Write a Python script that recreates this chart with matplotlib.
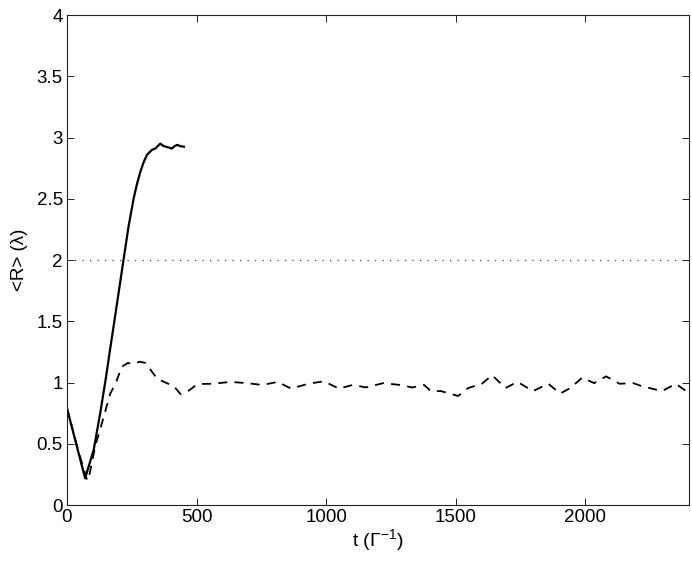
import matplotlib
matplotlib.use("Agg")
import matplotlib.pyplot as plt

plt.rcParams['font.family'] = ['Liberation Sans', 'DejaVu Sans']
plt.rcParams['mathtext.fontset'] = 'custom'
plt.rcParams['mathtext.rm'] = 'Liberation Sans'
plt.rcParams['mathtext.it'] = 'Liberation Sans:italic'
plt.rcParams['mathtext.default'] = 'regular'

# Solid curve
t_solid = [0, 70, 103, 129, 151, 167, 187, 218, 238, 257, 270, 283, 296, 309, 328, 341, 350, 360,
           373, 390, 405, 415, 425, 437, 451]
r_solid = [0.79, 0.218, 0.45, 0.76, 1.05, 1.28, 1.56, 2.00, 2.28, 2.50, 2.62, 2.72, 2.80, 2.86, 2.90, 2.91, 2.93, 2.95,
           2.93, 2.92, 2.91, 2.93, 2.94, 2.93, 2.925]

# Dashed curve
t_dash = [0, 40, 78, 85, 109, 135, 167, 187, 212, 235, 257, 280, 303, 348, 412, 438, 464, 499, 512, 564,
          630, 695, 754, 813, 865, 931, 991, 1050, 1102, 1154, 1220, 1286, 1332, 1378, 1404, 1443,
          1509, 1548, 1601, 1640, 1692, 1738, 1798, 1857, 1903, 1942, 1988, 2034, 2080, 2132, 2185,
          2218, 2296, 2349, 2402]
r_dash = [0.79, 0.47, 0.20, 0.23, 0.48, 0.67, 0.91, 0.99, 1.13, 1.16, 1.15, 1.17, 1.16, 1.03, 0.97, 0.906, 0.925, 0.98, 0.988, 0.99,
          1.005, 0.995, 0.98, 1.005, 0.95, 0.99, 1.01, 0.95, 0.98, 0.96, 0.995, 0.98, 0.96, 0.98, 0.93, 0.93,
          0.89, 0.955, 0.99, 1.06, 0.955, 1.005, 0.93, 0.99, 0.91, 0.955, 1.04, 0.995, 1.05, 0.99, 0.995,
          0.97, 0.93, 0.99, 0.91]

ref_level = 2.0

fig = plt.figure(figsize=(6.92, 5.61), dpi=100)
ax = fig.add_axes([0.0968, 0.0998, 0.8989, 0.8734])

ax.plot(t_solid, r_solid, color='black', lw=1.6, solid_joinstyle='round')
ax.plot(t_dash, r_dash, color='black', lw=1.3, linestyle=(0, (5, 4)))
ax.axhline(ref_level, color='#444444', lw=0.9, linestyle=(0, (1, 5)))

ax.set_xlim(0, 2400)
ax.set_ylim(0, 4)
ax.set_xticks([0, 500, 1000, 1500, 2000])
ax.set_yticks([0, 0.5, 1, 1.5, 2, 2.5, 3, 3.5, 4])
ax.set_yticklabels(['0', '0.5', '1', '1.5', '2', '2.5', '3', '3.5', '4'])
ax.tick_params(direction='in', top=True, right=True, length=5, width=0.6, labelsize=13.5, pad=3)
for s in ax.spines.values():
    s.set_linewidth(0.8)
    s.set_color('#222222')

ax.set_xlabel(r't ($\Gamma^{-1}$)', fontsize=14, labelpad=1)
ax.set_ylabel('<R> (λ)', fontsize=13.5, labelpad=6)

fig.savefig('out.png', dpi=100)
